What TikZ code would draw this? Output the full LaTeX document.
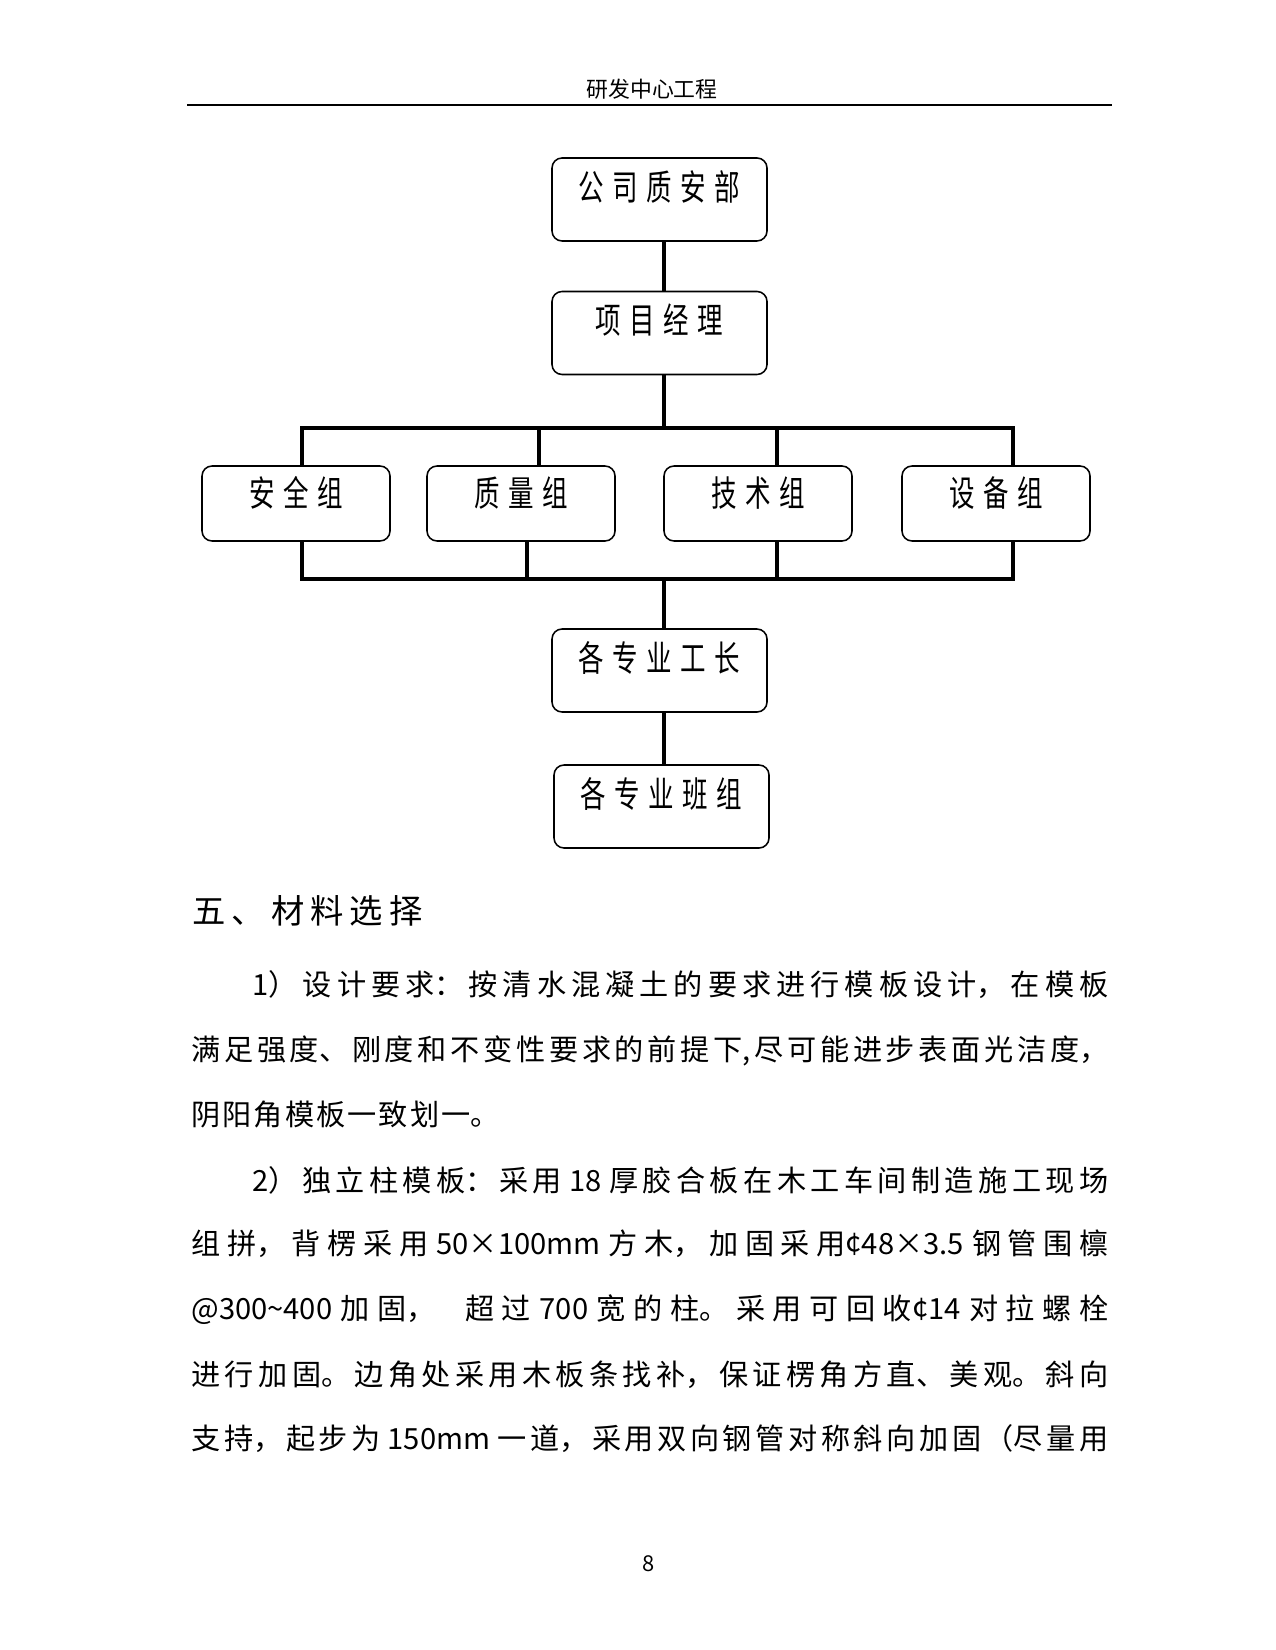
\documentclass[tikz,border=0pt]{standalone}
\usepackage{fontspec}
\usepackage{graphicx}
\setmainfont{Noto Sans CJK SC}
\XeTeXlinebreaklocale "zh"
\XeTeXlinebreakskip=1pt plus 4pt
\newcommand\jline[2]{\parbox{#1}{\tolerance=10000\parfillskip=0pt\relax #2}}
\newcommand\pline[2]{\parbox{#1}{#2}}
\newcommand\cg{\hspace{5.7pt}}
\newcommand\tg{\hspace{2.9pt}}
\newcommand\lbl[1]{\scalebox{0.72}[1]{\fontsize{17}{17}\selectfont #1}}
\begin{document}
\begin{tikzpicture}[x=0.48pt,y=-0.48pt,
  box/.style={draw, line width=0.75pt, rounded corners=4.8pt, inner sep=0pt,
    minimum width=103.2pt, text height=20.2pt, text depth=19.64pt},
  gbox/.style={box, minimum width=90.24pt, text height=19.4pt, text depth=16.6pt},
  conn/.style={line width=1.9pt},
  body/.style={anchor=west, inner sep=0pt, font=\fontsize{14}{16}\selectfont}]
\useasboundingbox (0,0) rectangle (1275,1650);
\fill[white] (0,0) rectangle (1275,1650);

% header
\node[inner sep=0pt, font=\fontsize{10.5}{12}\selectfont] (hd) at (652,89) {研发中心工程};
\draw[line width=1.2pt] (187,105) -- (1112,105);

% chart boxes
\node[box] (B1) at (659.5,199.5) {\lbl{公\cg 司\cg 质\cg 安\cg 部}};
\node[box] (B2) at (659.5,333) {\lbl{项\cg 目\cg 经\cg 理}};
\node[gbox] (G1) at (296,503.5) {\lbl{安\cg 全\cg 组}};
\node[gbox] (G2) at (521,503.5) {\lbl{质\cg 量\cg 组}};
\node[gbox] (G3) at (758,503.5) {\lbl{技\cg 术\cg 组}};
\node[gbox] (G4) at (996,503.5) {\lbl{设\cg 备\cg 组}};
\node[box] (B4) at (659.5,670.5) {\lbl{各\cg 专\cg 业\cg 工\cg 长}};
\node[box] (B5) at (661.5,806.5) {\lbl{各\cg 专\cg 业\cg 班\cg 组}};

% connector helper coordinates
\coordinate (sp) at (664,0);
\coordinate (tb) at (0,428);
\coordinate (bb) at (0,579);
\coordinate (d1) at (302,0);
\coordinate (d2) at (539,0);
\coordinate (d3) at (777,0);
\coordinate (d4) at (1013,0);
\coordinate (u2) at (527,0);

\draw[conn] (B1.south -| sp) -- (B2.north -| sp);
\draw[conn] (B2.south -| sp) -- (sp |- tb);
\draw[conn] (G1.north -| d1) -- (d1 |- tb) -- (d4 |- tb) -- (G4.north -| d4);
\draw[conn] (G2.north -| d2) -- (d2 |- tb);
\draw[conn] (G3.north -| d3) -- (d3 |- tb);
\draw[conn] (G1.south -| d1) -- (d1 |- bb) -- (d4 |- bb) -- (G4.south -| d4);
\draw[conn] (G2.south -| u2) -- (u2 |- bb);
\draw[conn] (G3.south -| d3) -- (d3 |- bb);
\draw[conn] (sp |- bb) -- (B4.north -| sp);
\draw[conn] (B4.south -| sp) -- (B5.north -| sp);

% body text
\node[anchor=west, inner sep=0pt, font=\fontsize{16}{18}\selectfont] (title) at (192,911)
  {五\tg 、\tg 材\tg 料\tg 选\tg 择};
\node[body] (p1) at (252,985) {\jline{410.9pt}{1）设计要求：按清水混凝土的要求进行模板设计，在模板}};
\node[body] (p2) at (191,1051) {\jline{440.2pt}{满足强度、刚度和不变性要求的前提下,尽可能进步表面光洁度，}};
\node[body] (p3) at (191,1114) {\pline{440.2pt}{阴阳角模板一致划一。}};
\node[body] (p4) at (252,1180) {\jline{410.9pt}{2）独立柱模板：采用 18 厚胶合板在木工车间制造施工现场}};
\node[body] (p5) at (191,1244) {\jline{440.2pt}{组拼，背楞采用 50×100mm 方木，加固采用¢48×3.5 钢管围檩}};
\node[body] (p6) at (191,1310) {\jline{440.2pt}{@300\textasciitilde 400 加固，\hspace{1em}超过 700 宽的柱。采用可回收¢14 对拉螺栓}};
\node[body] (p7) at (191,1375) {\jline{440.2pt}{进行加固。边角处采用木板条找补，保证楞角方直、美观。斜向}};
\node[body] (p8) at (191,1439) {\jline{440.2pt}{支持，起步为 150mm 一道，采用双向钢管对称斜向加固（尽量用}};

\node[inner sep=0pt, font=\fontsize{10.5}{12}\selectfont] (pg) at (649,1564) {8};
\end{tikzpicture}
\end{document}
